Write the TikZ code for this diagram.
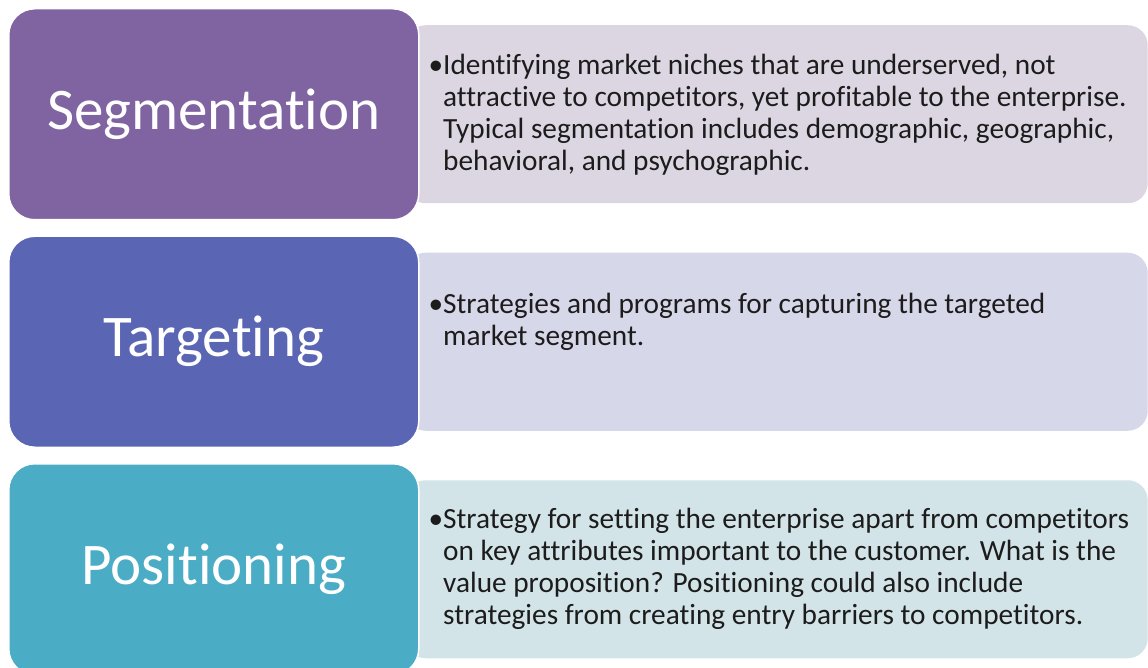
\documentclass[tikz,border=0pt]{standalone}
\usepackage{fontspec}
\setmainfont{Carlito}[Ligatures=NoCommon]
\usetikzlibrary{positioning,backgrounds}

\definecolor{segfill}{HTML}{8064A2}
\definecolor{tarfill}{HTML}{5A66B4}
\definecolor{posfill}{HTML}{4BACC6}
\definecolor{segpanel}{HTML}{DCD6E2}
\definecolor{tarpanel}{HTML}{D7D7EA}
\definecolor{pospanel}{HTML}{D3E4E9}
\definecolor{bodytext}{HTML}{1C1C1C}

\begin{document}
\begin{tikzpicture}[
    x=1pt, y=-1pt,
    node distance=15pt,
    stage/.style={draw=white, line width=1.5pt, rounded corners=26pt, minimum width=410pt,
      minimum height=211pt, inner sep=0pt, text=white, font=\fontsize{59}{60}\selectfont},
    panel/.style={rounded corners=20pt, minimum width=742pt, minimum height=178pt, inner sep=0pt},
    desc/.style={anchor=base west, inner sep=0pt, text=bodytext, font=\fontsize{29.3}{32}\selectfont},
]
\useasboundingbox (0,0) rectangle (1148,668);

% --- the three stages ---
\node[stage, fill=segfill, anchor=north west] (seg) at (8,8) {Segmentation};
\node[stage, fill=tarfill, below=of seg] (tar) {Targeting};
\node[stage, fill=posfill, below=of tar] (pos) {Positioning};

% --- descriptions ---
\node[desc] (segtxt) at ([xshift=435pt, yshift=-67pt]seg.north west) {\parbox[t]{710pt}{\raggedright
  \leavevmode\llap{•}Identifying market niches that are underserved, not\\
  attractive to competitors, yet profitable to the enterprise.\\
  Typical segmentation includes demographic, geographic,\\
  behavioral, and psychographic.}};
\node[desc] (tartxt) at ([xshift=435pt, yshift=-78pt]tar.north west) {\parbox[t]{710pt}{\raggedright
  \leavevmode\llap{•}Strategies and programs for capturing the targeted\\
  market segment.}};
\node[desc] (postxt) at ([xshift=435pt, yshift=-65pt]pos.north west) {\parbox[t]{710pt}{\raggedright
  \leavevmode\llap{•}Strategy for setting the enterprise apart from competitors\\
  on key attributes important to the customer. What is the\\
  value proposition? Positioning could also include\\
  strategies from creating entry barriers to competitors.}};

% --- panels behind ---
\begin{scope}[on background layer]
\fill[white] (0,0) rectangle (1148,668);
\node[panel, fill=segpanel, anchor=west] (segp) at ([xshift=-14pt]seg.east) {};
\node[panel, fill=tarpanel, anchor=west] (tarp) at ([xshift=-14pt]tar.east) {};
\node[panel, fill=pospanel, anchor=west] (posp) at ([xshift=-14pt]pos.east) {};
\end{scope}

\end{tikzpicture}
\end{document}
